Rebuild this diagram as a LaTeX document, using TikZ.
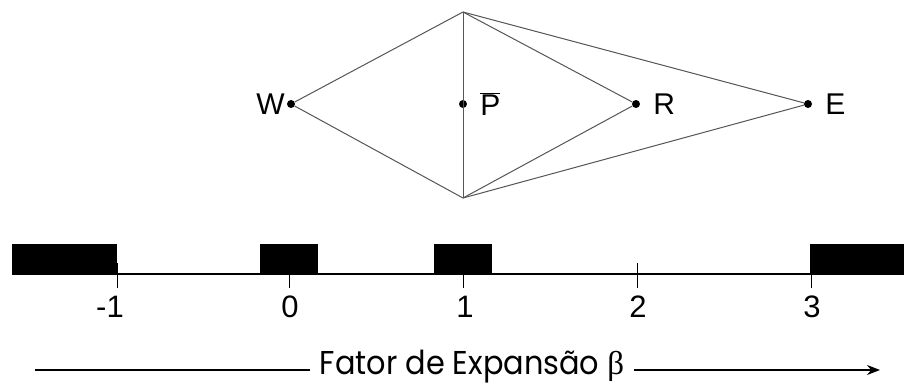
\documentclass[tikz,border=0pt]{standalone}
\usepackage{fontspec}
\setmainfont{Liberation Sans}
\newfontfamily\gothicfont[FakeStretch=0.92]{Poppins}
\newfontfamily\greekfont{Liberation Serif}
\usepackage{xcolor}
\definecolor{edgegray}{RGB}{85,85,85}
\usepackage{tikz}
\usetikzlibrary{arrows.meta, positioning}

\begin{document}
\begin{tikzpicture}[x=1pt, y=-1pt, >=Stealth,
    vertex/.style={circle, fill=black, inner sep=0pt, minimum size=8pt},
    ptlabel/.style={font=\fontsize{30}{34}\selectfont, inner sep=2pt},
    edge/.style={edgegray, line width=1pt},
    numlabel/.style={font=\fontsize{31}{34}\selectfont}]
    \useasboundingbox (0,0) rectangle (904,387);

    \node[vertex] (W) at (291,104) {};
    \node[vertex] (Pbar) at (463,104) {};
    \node[vertex] (R) at (636,104) {};
    \node[vertex] (E) at (808,104) {};
    \coordinate (top) at (463,12);
    \coordinate (bot) at (463,198);
    \node[ptlabel, left=0pt of W] (Wl) {W};
    \node[ptlabel, right=11pt of Pbar] (Pl) {$\overline{\mbox{P}}$};
    \node[ptlabel, right=11pt of R] (Rl) {R};
    \node[ptlabel, right=11pt of E] (El) {E};

    \draw[edge] (top) -- (W) -- (bot);
    \draw[edge] (top) -- (bot);
    \draw[edge] (top) -- (R) -- (bot);
    \draw[edge] (top) -- (E) -- (bot);

    \draw[line width=1.3pt] (12,274) -- (904,274);
    \foreach \x/\n/\lx in {117/-1/110, 289/0/290, 463/1/465, 637/2/638, 811/3/812} {
        \draw[line width=1pt] (\x,263) -- (\x,288);
        \node[numlabel] (n\n) at (\lx,307) {\n};
    }
    \fill (12,244) rectangle (117,274);
    \fill (260,244) rectangle (318,274);
    \fill (434,244) rectangle (492,274);
    \fill (810,244) rectangle (904,274);

    \node[font=\gothicfont\fontsize{33}{36}\selectfont, inner xsep=10pt] (title) at (472,367) {Fator de Expans\~ao {\greekfont β}};
    \coordinate (lstart) at (35,370);
    \coordinate (aend) at (880,370);
    \draw[line width=1.5pt] (lstart) -- (lstart -| title.west);
    \draw[line width=1.5pt, -{Stealth[length=13pt, width=10pt]}] (aend -| title.east) -- (aend);
\end{tikzpicture}
\end{document}
